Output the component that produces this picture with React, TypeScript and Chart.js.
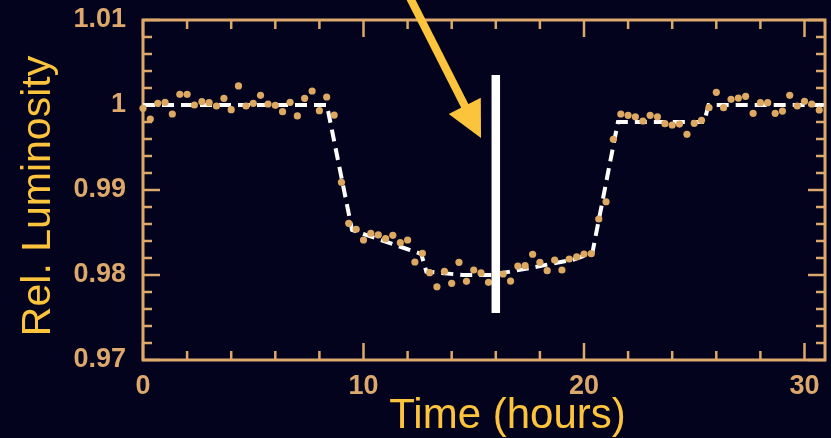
import React, { useEffect, useRef } from "react";
import { Chart, registerables } from "chart.js";

Chart.register(...registerables);

// Observed brightness samples, one every 20 minutes
const obsTime = [
  0, 0.33, 0.67, 1, 1.33, 1.67, 2, 2.33, 2.67, 3, 3.33, 3.67, 4, 4.33, 4.67, 5,
  5.33, 5.67, 6, 6.33, 6.67, 7, 7.33, 7.67, 8, 8.33, 8.67, 9, 9.33, 9.67, 10,
  10.33, 10.67, 11, 11.33, 11.67, 12, 12.33, 12.67, 13, 13.33, 13.67, 14, 14.33,
  14.67, 15, 15.33, 15.67, 16, 16.33, 16.67, 17, 17.33, 17.67, 18, 18.33, 18.67,
  19, 19.33, 19.67, 20, 20.33, 20.67, 21, 21.33, 21.67, 22, 22.33, 22.67, 23,
  23.33, 23.67, 24, 24.33, 24.67, 25, 25.33, 25.67, 26, 26.33, 26.67, 27, 27.33,
  27.67, 28, 28.33, 28.67, 29, 29.33, 29.67, 30, 30.33, 30.67,
];
const obsLum = [
  0.99961, 0.99835, 1.0002, 1.00032, 0.99894, 1.00126, 1.00126, 1.0, 1.00039,
  1.00027, 0.99988, 1.00079, 0.99945, 1.00224, 0.99988, 1.0002, 1.00114, 1.00012,
  0.99996, 0.99921, 1.00032, 0.99871, 1.00079, 1.00165, 0.99933, 1.00094,
  0.99882, 0.99091, 0.98608, 0.98538, 0.98412, 0.98491, 0.98471, 0.98427,
  0.98467, 0.9838, 0.98412, 0.98153, 0.98255, 0.98027, 0.97862, 0.98043, 0.97902,
  0.98149, 0.97926, 0.98059, 0.98024, 0.97914, 0.9802, 0.98012, 0.97929, 0.98106,
  0.9811, 0.98244, 0.98149, 0.98051, 0.98176, 0.98059, 0.98188, 0.98215, 0.98247,
  0.98251, 0.98659, 0.98862, 0.99596, 0.99894, 0.99879, 0.99862, 0.99812,
  0.99879, 0.99862, 0.9978, 0.99765, 0.99776, 0.99655, 0.99785, 0.9982, 0.99968,
  1.00149, 0.99968, 1.00067, 1.00082, 1.00102, 0.99902, 1.00027, 1.00027,
  0.99902, 0.99929, 1.00114, 0.99988, 1.00044, 1.00012, 0.99941,
];

// Transit model curve
const modelTime = [0, 8.34, 9.48, 12.62, 12.85, 14.5, 15.8, 17.5, 19.5, 20.38, 21.54, 25.45, 25.65, 30.93];
const modelLum = [1.0, 1.0, 0.9853, 0.98247, 0.9804, 0.98, 0.98, 0.9808, 0.9818, 0.9826, 0.998, 0.998, 1.0, 1.0];

// Axis ranges and labelled ticks
const xRange = [0, 30.93];
const yRange = [0.97, 1.01];
const xTickValues = [0, 10, 20, 30];
const yTickValues = [0.97, 0.98, 0.99, 1.0, 1.01];
const xMinorStep = 2;
const yMinorStep = 0.002;

// Mid-transit marker and pointer arrow (data units)
const midTransitTime = 16;
const markerLum = [0.97553, 1.00353];
const arrowTail = { x: 11.93, y: 1.01353 };
const arrowTip = { x: 15.33, y: 0.99612 };

const BG = "#03031e";
const TAN = "#dca86b";
const DOT = "#dca862";
const GOLD = "#fcc43c";

const decorPlugin = {
  id: "decor",
  beforeDatasetsDraw(chart: any) {
    const { ctx, chartArea: a, scales } = chart;
    const xs = scales.x;
    const ys = scales.y;
    ctx.save();
    ctx.strokeStyle = TAN;
    ctx.lineWidth = 2.5;
    const major = 17;
    const minor = 9;
    // x ticks on bottom and top edges
    for (let v = xRange[0]; v <= xRange[1] + 1e-9; v += xMinorStep) {
      const isMajor = xTickValues.some((t) => Math.abs(t - v) < 1e-6);
      const len = isMajor ? major : minor;
      const px = xs.getPixelForValue(v);
      ctx.beginPath();
      ctx.moveTo(px, a.bottom);
      ctx.lineTo(px, a.bottom - len);
      ctx.moveTo(px, a.top);
      ctx.lineTo(px, a.top + len);
      ctx.stroke();
    }
    // y ticks on left and right edges
    const nY = Math.round((yRange[1] - yRange[0]) / yMinorStep);
    for (let k = 0; k <= nY; k++) {
      const v = yRange[0] + k * yMinorStep;
      const isMajor = yTickValues.some((t) => Math.abs(t - v) < 1e-7);
      const len = isMajor ? major : minor;
      const py = ys.getPixelForValue(v);
      ctx.beginPath();
      ctx.moveTo(a.left, py);
      ctx.lineTo(a.left + len, py);
      ctx.moveTo(a.right, py);
      ctx.lineTo(a.right - len, py);
      ctx.stroke();
    }
    ctx.lineWidth = 3;
    ctx.strokeRect(a.left, a.top, a.right - a.left, a.bottom - a.top);
    ctx.restore();
  },
  afterDatasetsDraw(chart: any) {
    const { ctx, scales } = chart;
    const xs = scales.x;
    const ys = scales.y;
    ctx.save();
    // mid-transit marker
    const mx = xs.getPixelForValue(midTransitTime);
    const y0 = ys.getPixelForValue(markerLum[0]);
    const y1 = ys.getPixelForValue(markerLum[1]);
    ctx.fillStyle = "#ffffff";
    ctx.fillRect(mx - 4.25, y1, 8.5, y0 - y1);

    // pointer arrow
    const tx = xs.getPixelForValue(arrowTail.x);
    const ty = ys.getPixelForValue(arrowTail.y);
    const hx = xs.getPixelForValue(arrowTip.x);
    const hy = ys.getPixelForValue(arrowTip.y);
    const dx = hx - tx;
    const dy = hy - ty;
    const len = Math.hypot(dx, dy);
    const ux = dx / len;
    const uy = dy / len;
    const headLen = 36;
    const headHalf = 18;
    const bx = hx - ux * headLen;
    const by = hy - uy * headLen;
    ctx.strokeStyle = GOLD;
    ctx.lineWidth = 8;
    ctx.beginPath();
    ctx.moveTo(tx, ty);
    ctx.lineTo(bx + ux * 2, by + uy * 2);
    ctx.stroke();
    ctx.fillStyle = GOLD;
    ctx.beginPath();
    ctx.moveTo(hx, hy);
    ctx.lineTo(bx - uy * headHalf, by + ux * headHalf);
    ctx.lineTo(bx + uy * headHalf, by - ux * headHalf);
    ctx.closePath();
    ctx.fill();

    // axis titles
    ctx.fillStyle = GOLD;
    ctx.textBaseline = "alphabetic";
    ctx.textAlign = "center";
    ctx.font = '42px "Liberation Sans", Arial, sans-serif';
    ctx.fillText("Time (hours)", 507.5, 428);
    ctx.translate(50, 196);
    ctx.rotate(-Math.PI / 2);
    ctx.font = '41px "Liberation Sans", Arial, sans-serif';
    ctx.fillText("Rel. Luminosity", 0, 0);
    ctx.restore();
  },
};

export default function App() {
  const ref = useRef<HTMLCanvasElement | null>(null);

  useEffect(() => {
    if (!ref.current) return;
    const tickFont = { family: '"Liberation Sans", Arial, sans-serif', size: 27, weight: "bold" as const };
    const chart = new Chart(ref.current, {
      type: "scatter",
      data: {
        datasets: [
          {
            type: "line",
            data: modelTime.map((t, i) => ({ x: t, y: modelLum[i] })),
            borderColor: "#ffffff",
            borderWidth: 4,
            borderDash: [12, 7],
            pointRadius: 0,
            tension: 0,
            fill: false,
            order: 2,
          } as any,
          {
            type: "scatter",
            data: obsTime.map((t, i) => ({ x: t, y: obsLum[i] })),
            backgroundColor: DOT,
            borderWidth: 0,
            pointRadius: 3.6,
            clip: false,
            order: 1,
          } as any,
        ],
      },
      options: {
        animation: false,
        responsive: false,
        devicePixelRatio: 1,
        layout: { padding: { top: 20, right: 6, left: 0, bottom: 0 } },
        plugins: { legend: { display: false }, tooltip: { enabled: false } },
        scales: {
          x: {
            type: "linear",
            position: "bottom",
            min: xRange[0],
            max: xRange[1],
            grid: { display: false, drawTicks: false },
            border: { display: false },
            ticks: {
              color: TAN,
              font: tickFont,
              padding: 10,
              maxRotation: 0,
              autoSkip: false,
              callback: (v: any) => String(Number(v)),
            },
            afterBuildTicks: (s: any) => {
              s.ticks = xTickValues.map((v) => ({ value: v }));
            },
            afterFit: (s: any) => {
              s.height = 78;
              s.paddingLeft = 0;
              s.paddingRight = 0;
            },
          },
          y: {
            type: "linear",
            position: "left",
            min: yRange[0],
            max: yRange[1],
            grid: { display: false, drawTicks: false },
            border: { display: false },
            ticks: {
              color: TAN,
              font: tickFont,
              padding: 17,
              autoSkip: false,
              callback: (v: any) => String(Number(Number(v).toFixed(2))),
            },
            afterBuildTicks: (s: any) => {
              s.ticks = yTickValues.map((v) => ({ value: v }));
            },
            afterFit: (s: any) => {
              s.width = 143;
              s.paddingTop = 0;
              s.paddingBottom = 0;
            },
          },
        },
      },
      plugins: [decorPlugin],
    });
    return () => chart.destroy();
  }, []);

  return (
    <div style={{ position: "absolute", left: 0, top: 0, width: 831, height: 438, background: BG, overflow: "hidden" }}>
      <canvas ref={ref} width={831} height={438} style={{ display: "block" }} />
    </div>
  );
}
